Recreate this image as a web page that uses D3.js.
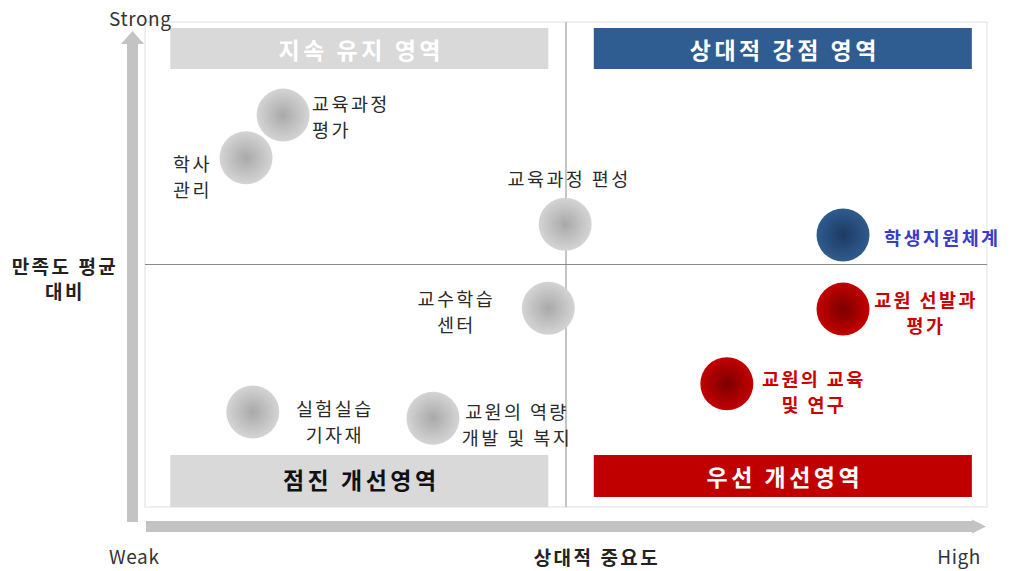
<!DOCTYPE html>
<html><head><meta charset="utf-8">
<script src="https://cdn.jsdelivr.net/npm/d3@7"></script>
<style>body{margin:0;background:#fff}svg{display:block}text{font-family:"Noto Sans CJK KR","Noto Sans",sans-serif}</style>
</head><body>
<svg id="c" width="1013" height="571"></svg>
<script>
// ---- data ----
const items = ["교육과정 평가","학사 관리","교육과정 편성","학생지원체계","교수학습 센터","교원 선발과 평가","교원의 교육 및 연구","실험실습 기자재","교원의 역량 개발 및 복지"];
const importance = [16.4, 12.0, 49.9, 82.9, 47.9, 82.9, 69.1, 12.8, 34.2];
const satisfaction = [80.8, 72.0, 58.3, 56.1, 41.0, 40.8, 25.4, 19.6, 18.3];
const groups = ["gray","gray","gray","blue","gray","red","red","gray","gray"];
const labelLines = [["교육과정","평가"],["학사","관리"],["교육과정 편성"],["학생지원체계"],["교수학습","센터"],["교원 선발과","평가"],["교원의 교육","및 연구"],["실험실습","기자재"],["교원의 역량","개발 및 복지"]];
const quadrantNames = ["지속 유지 영역","상대적 강점 영역","점진 개선영역","우선 개선영역"];
const axisTicks = {yTop:"Strong", xLeft:"Weak", xRight:"High"};
const xTitle = "상대적 중요도";
const yTitle = ["만족도 평균","대비"];
const midX = 50, midY = 50;

// ---- layout / style ----
const labelPlace = [
  {dx:29, dy:[-12,14], anchor:"start"},
  {dx:-73, dy:[5,31], anchor:"start"},
  {dx:4, dy:[-46], anchor:"middle"},
  {dx:41, dy:[2], anchor:"start"},
  {dx:-92, dy:[-10,16], anchor:"middle"},
  {dx:83, dy:[-10,16], anchor:"middle"},
  {dx:87, dy:[-6,20], anchor:"middle"},
  {dx:82, dy:[-4,22], anchor:"middle"},
  {dx:84, dy:[-7,19], anchor:"middle"}
];
const style = {
  gray:{inner:"#a9a9a9", outer:"#d4d4d4", text:"#2a2a2a", weight:400},
  blue:{inner:"#1d3a63", outer:"#2f5b8e", text:"#3b3bc9", weight:700},
  red:{inner:"#7a0000", outer:"#c40000", text:"#cc0000", weight:700}
};

const svg = d3.select("#c");
const L=145, R=987, T=22, B=507;
const x = d3.scaleLinear().domain([0,100]).range([L,R]);
const y = d3.scaleLinear().domain([0,100]).range([B,T]);

const defs = svg.append("defs");
Object.entries(style).forEach(([k,s])=>{
  const g = defs.append("radialGradient").attr("id","g-"+k);
  g.append("stop").attr("offset","0%").attr("stop-color",s.inner);
  g.append("stop").attr("offset","100%").attr("stop-color",s.outer);
});

// frame
svg.append("rect").attr("x",L).attr("y",T).attr("width",R-L).attr("height",B-T)
  .attr("fill","#fff").attr("stroke","#e0e0e0").attr("stroke-width",1);

// quadrant banners
const banners = [
  {x0:3, x1:47.9, yTop:T+6, h:41, fill:"#d9d9d9", col:"#fff"},
  {x0:53.3, x1:98.2, yTop:T+6, h:41, fill:"#305d91", col:"#fff"},
  {x0:3, x1:47.9, yTop:455, h:52, fill:"#d9d9d9", col:"#111"},
  {x0:53.3, x1:98.2, yTop:455, h:42, fill:"#c00000", col:"#fff"}
];
banners.forEach((b,i)=>{
  svg.append("rect").attr("x",x(b.x0)).attr("y",b.yTop).attr("width",x(b.x1)-x(b.x0)).attr("height",b.h).attr("fill",b.fill);
  svg.append("text").attr("x",(x(b.x0)+x(b.x1))/2+2).attr("y",b.yTop+(i===2?24:21)).attr("text-anchor","middle")
    .attr("dominant-baseline","central").attr("font-size",23).attr("letter-spacing",3.5).attr("font-weight",700).attr("fill",b.col)
    .text(quadrantNames[i]);
});

// mid lines
svg.append("line").attr("x1",x(midX)).attr("x2",x(midX)).attr("y1",T).attr("y2",B).attr("stroke","#8a8a8a").attr("stroke-width",1);
svg.append("line").attr("x1",L).attr("x2",R).attr("y1",y(midY)).attr("y2",y(midY)).attr("stroke","#8a8a8a").attr("stroke-width",1);

// arrows
const ac="#c3c3c3";
svg.append("rect").attr("x",127).attr("y",43).attr("width",11).attr("height",479).attr("fill",ac);
svg.append("path").attr("d","M121,44 L132.5,31 L144,44 Z").attr("fill",ac);
svg.append("rect").attr("x",146).attr("y",521).attr("width",828).attr("height",11).attr("fill",ac);
svg.append("path").attr("d","M972,519.5 L986,526.5 L972,533.5 Z").attr("fill",ac);

// bubbles
const idx = d3.range(items.length);
svg.selectAll("circle.b").data(idx).join("circle").attr("class","b")
  .attr("cx",i=>x(importance[i])).attr("cy",i=>y(satisfaction[i])).attr("r",26.5)
  .attr("fill",i=>`url(#g-${groups[i]})`);

// labels
idx.forEach(i=>{
  const p=labelPlace[i], s=style[groups[i]];
  labelLines[i].forEach((ln,j)=>{
    svg.append("text").attr("x",x(importance[i])+p.dx).attr("y",y(satisfaction[i])+p.dy[j])
      .attr("text-anchor",p.anchor).attr("dominant-baseline","central")
      .attr("font-size",18.5).attr("letter-spacing",2.4).attr("font-weight",s.weight).attr("fill",s.text).text(ln);
  });
});

// axis texts
const lat="'Open Sans',sans-serif";
svg.append("text").attr("x",109).attr("y",17).attr("dominant-baseline","central").attr("font-size",19).attr("letter-spacing",0.6).attr("fill","#333").attr("font-family",lat).text(axisTicks.yTop);
svg.append("text").attr("x",109).attr("y",555).attr("dominant-baseline","central").attr("font-size",19).attr("letter-spacing",0.6).attr("fill","#333").attr("font-family",lat).text(axisTicks.xLeft);
svg.append("text").attr("x",981).attr("y",555).attr("text-anchor","end").attr("dominant-baseline","central").attr("font-size",19).attr("letter-spacing",0.6).attr("fill","#333").attr("font-family",lat).text(axisTicks.xRight);
svg.append("text").attr("x",597).attr("y",556).attr("text-anchor","middle").attr("dominant-baseline","central").attr("font-size",19).attr("letter-spacing",2.5).attr("font-weight",700).attr("fill","#222").text(xTitle);
yTitle.forEach((t,j)=>svg.append("text").attr("x",65).attr("y",265+j*25).attr("text-anchor","middle").attr("dominant-baseline","central").attr("font-size",19).attr("letter-spacing",2.5).attr("font-weight",700).attr("fill","#222").text(t));
</script>
</body></html>
